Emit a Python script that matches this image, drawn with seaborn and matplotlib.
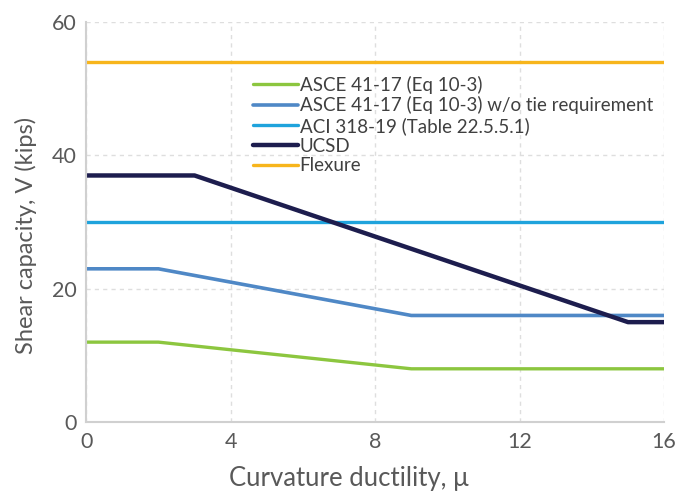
import pandas as pd
import numpy as np
import matplotlib
matplotlib.use("Agg")
import matplotlib.pyplot as plt
import seaborn as sns

# data
labels = ["ASCE 41-17 (Eq 10-3)",
          "ASCE 41-17 (Eq 10-3) w/o tie requirement",
          "ACI 318-19 (Table 22.5.5.1)",
          "UCSD",
          "Flexure"]
asce_mu = [0, 2, 9, 16]
asce_v = [12, 12, 8, 8]
asce_notie_mu = [0, 2, 9, 16]
asce_notie_v = [23, 23, 16, 16]
aci_mu = [0, 16]
aci_v = [30, 30]
ucsd_mu = [0, 3, 15, 16]
ucsd_v = [37, 37, 15, 15]
flex_mu = [0, 16]
flex_v = [54, 54]

colors = ["#8cc63f", "#4f88c6", "#1fa3dc", "#1d1d4e", "#f7b51c"]
widths = [2.4, 2.6, 2.4, 3.2, 2.4]

series = [(asce_mu, asce_v), (asce_notie_mu, asce_notie_v), (aci_mu, aci_v),
          (ucsd_mu, ucsd_v), (flex_mu, flex_v)]
rows = []
for lab, (mu, v) in zip(labels, series):
    for m, s in zip(mu, v):
        rows.append({"mu": m, "V": s, "series": lab})
df = pd.DataFrame(rows)

sns.set_style("white")
plt.rcParams["font.family"] = ["Lato", "DejaVu Sans"]

fig = plt.figure(figsize=(6.84, 4.92), dpi=100)
ax = fig.add_axes([0.126, 0.142, 0.845, 0.813])

sns.lineplot(data=df, x="mu", y="V", hue="series", hue_order=labels,
             palette=colors, ax=ax, legend=True, sort=False)
for line, w in zip(ax.get_lines(), widths):
    line.set_linewidth(w)

ax.set_xlim(0, 16)
ax.set_ylim(0, 60)
ax.set_xticks([0, 4, 8, 12, 16])
ax.set_yticks([0, 20, 40, 60])
ax.grid(True, linestyle=(0, (3, 3)), color="#dedede", linewidth=1)
for side in ["top", "right"]:
    ax.spines[side].set_visible(False)
for side in ["left", "bottom"]:
    ax.spines[side].set_color("#d0d0d0")
    ax.spines[side].set_linewidth(1.5)
ax.tick_params(axis="both", labelsize=15.5, colors="#595959", length=0, pad=7)
ax.set_xlabel("Curvature ductility, μ", fontsize=18.5, color="#595959")
ax.set_ylabel("Shear capacity, V (kips)", fontsize=17, color="#595959")
ax.xaxis.set_label_coords(0.455, -0.11)
ax.yaxis.set_label_coords(-0.085, 0.4675)

handles, _ = ax.get_legend_handles_labels()
for h, w in zip(handles, widths):
    h.set_linewidth(w)
leg = ax.legend(handles, labels, loc="upper left", bbox_to_anchor=(0.275, 0.885),
                frameon=False, fontsize=13.5, handlelength=2.4, handletextpad=0.1,
                labelspacing=0.14, borderaxespad=0)
for t in leg.get_texts():
    t.set_color("#404040")

fig.savefig("out.png", dpi=100)
